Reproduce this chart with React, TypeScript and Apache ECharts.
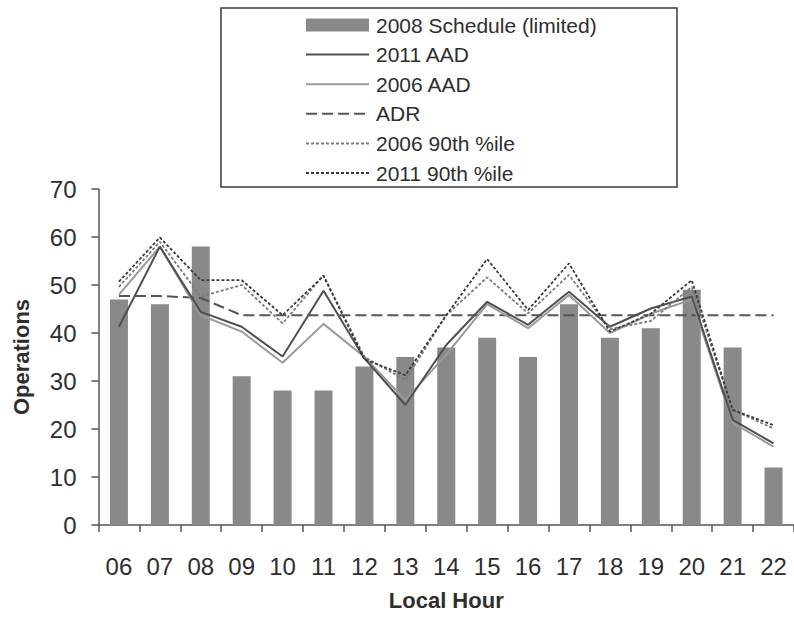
import React, { useEffect, useRef } from "react";
import * as echarts from "echarts";

const hours = ["06", "07", "08", "09", "10", "11", "12", "13", "14", "15", "16", "17", "18", "19", "20", "21", "22"];
const schedule2008 = [47, 46, 58, 31, 28, 28, 33, 35, 37, 39, 35, 46, 39, 41, 49, 37, 12];
const aad2011 = [41.3, 58, 44.4, 41.3, 35.1, 48.8, 34.7, 25, 37.5, 46.5, 41.7, 48.6, 41.3, 45.1, 47.6, 21.9, 17];
const aad2006 = [48, 58, 43.7, 40.3, 33.8, 41.9, 35, 26, 35.5, 46, 41, 47.9, 40, 44, 47, 21.3, 16.3];
const adr = [47.7, 47.7, 47.3, 43.7, 43.7, 43.7, 43.7, 43.7, 43.7, 43.7, 43.7, 43.7, 43.7, 43.7, 43.7, 43.7, 43.7];
const p90_2006 = [49.6, 59, 47.6, 50, 42, 52, 35, 30.2, 43.7, 51.6, 44.1, 52.1, 40.8, 42.5, 49.6, 24, 20.1];
const p90_2011 = [50.7, 59.9, 51, 51, 43.7, 51.9, 34.5, 31.2, 43.7, 55.4, 44.8, 54.5, 40.3, 44, 51, 24, 20.8];
const yTicks = { min: 0, max: 70, interval: 10 };

const FONT = "'Liberation Sans', Arial, sans-serif";
const TXT = "#2e2e2e";

export default function App() {
  const ref = useRef<HTMLDivElement>(null);
  useEffect(() => {
    if (!ref.current) return;
    const chart = echarts.init(ref.current, undefined, { renderer: "svg" });
    const lineSeries = (name: string, data: number[], color: string, width: number, type: any, z: number) => ({
      name,
      type: "line",
      data,
      symbol: "none",
      z,
      lineStyle: { color, width, type },
      itemStyle: { color: "rgba(0,0,0,0)", borderWidth: 0 },
    });
    const lineLegend = (name: string) => ({
      name,
      itemStyle: { color: "rgba(0,0,0,0)", borderWidth: 0, opacity: 0 },
    });
    chart.setOption({
      animation: false,
      backgroundColor: "#ffffff",
      textStyle: { fontFamily: FONT },
      grid: { left: 98.5, right: -2.5, top: 189, bottom: 97, containLabel: false },
      graphic: [
        {
          type: "rect",
          shape: { x: 221, y: 8, width: 456, height: 179 },
          style: { fill: "none", stroke: "#3a3a3a", lineWidth: 1.5 },
          z: 1,
        },
      ],
      legend: {
        orient: "vertical",
        left: 305,
        top: 13,
        itemWidth: 63,
        itemHeight: 13,
        itemGap: 5.6,
        padding: 0,
        textStyle: { fontSize: 21, color: TXT, fontFamily: FONT, lineHeight: 24, padding: [0, 0, 0, 2] },
        data: [
          { name: "2008 Schedule (limited)", icon: "rect" },
          lineLegend("2011 AAD"),
          lineLegend("2006 AAD"),
          lineLegend("ADR"),
          lineLegend("2006 90th %ile"),
          lineLegend("2011 90th %ile"),
        ],
      },
      xAxis: {
        type: "category",
        data: hours,
        name: "Local Hour",
        nameLocation: "middle",
        nameGap: 64,
        nameTextStyle: { fontSize: 22, fontWeight: "bold", color: TXT, fontFamily: FONT },
        axisLine: { lineStyle: { color: "#555", width: 1.5 } },
        axisTick: { show: true, length: 7, alignWithLabel: false, lineStyle: { color: "#555", width: 1.5 } },
        axisLabel: { fontSize: 24, color: TXT, margin: 29, fontFamily: FONT },
        splitLine: { show: false },
      },
      yAxis: {
        type: "value",
        min: yTicks.min,
        max: yTicks.max,
        interval: yTicks.interval,
        name: "Operations",
        nameLocation: "middle",
        nameGap: 66,
        nameRotate: 90,
        nameTextStyle: { fontSize: 22, fontWeight: "bold", color: TXT, fontFamily: FONT },
        axisLine: { show: true, lineStyle: { color: "#555", width: 1.5 } },
        axisTick: { show: true, length: 7, lineStyle: { color: "#555", width: 1.5 } },
        axisLabel: { fontSize: 24, color: TXT, margin: 22, fontFamily: FONT },
        splitLine: { show: false },
      },
      series: [
        {
          name: "2008 Schedule (limited)",
          type: "bar",
          data: schedule2008,
          barWidth: 18,
          itemStyle: { color: "#898989" },
          z: 1,
        },
        lineSeries("2011 AAD", aad2011, "#505050", 2, "solid", 5),
        lineSeries("2006 AAD", aad2006, "#9a9a9a", 2, "solid", 4),
        lineSeries("ADR", adr, "#555555", 2, [11, 5], 3),
        lineSeries("2006 90th %ile", p90_2006, "#7a7a7a", 1.8, [3, 2], 6),
        lineSeries("2011 90th %ile", p90_2011, "#3a3a3a", 1.8, [3, 2], 7),
      ],
    });
    return () => chart.dispose();
  }, []);
  return <div ref={ref} style={{ position: "absolute", left: 0, top: 0, width: 794, height: 622 }} />;
}
